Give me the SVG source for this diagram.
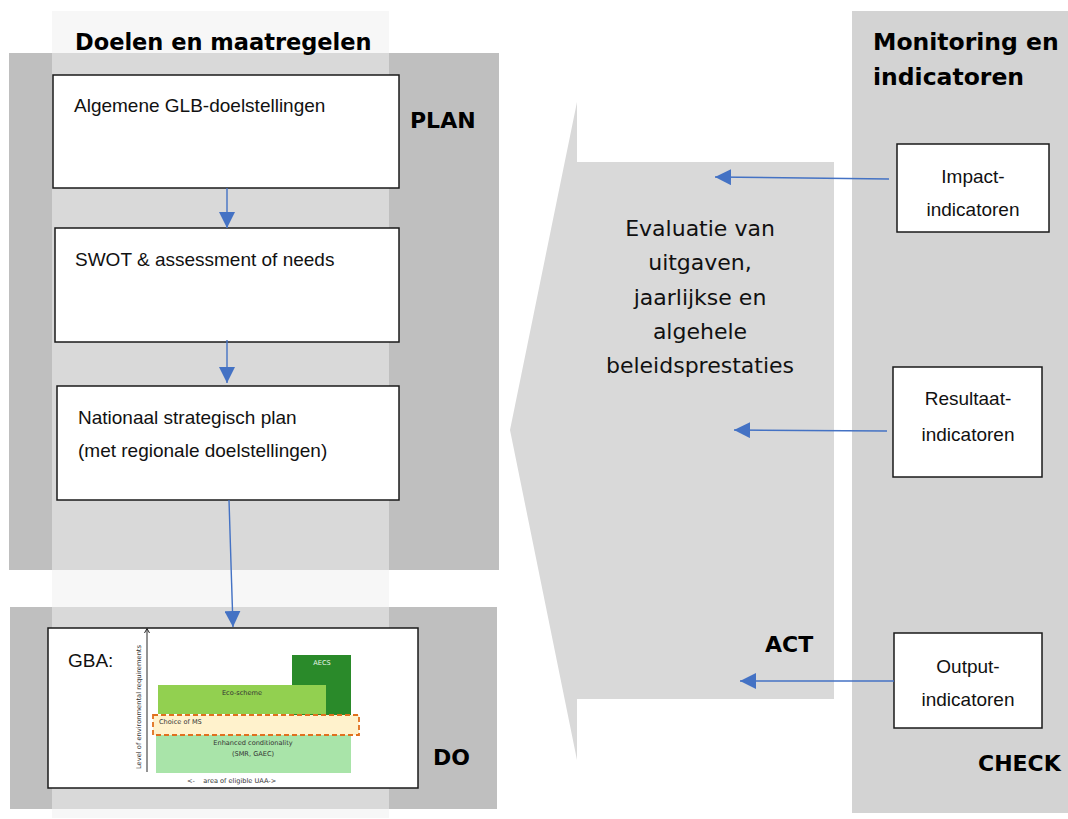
<svg xmlns="http://www.w3.org/2000/svg" width="1068" height="819" viewBox="0 0 1068 819">
  <style>
    .box { fill: #ffffff; stroke: #1a1a1a; stroke-width: 1.5; }
    .calibri { font-family: "Liberation Sans", Arial, sans-serif; font-size: 19px; fill: #111; }
    .hdr { font-family: "DejaVu Sans", Verdana, sans-serif; font-weight: bold; fill: #000; }
    .phase { font-family: "DejaVu Sans", Verdana, sans-serif; font-weight: bold; font-size: 22px; fill: #000; }
    .eval { font-family: "DejaVu Sans", Verdana, sans-serif; font-size: 22px; fill: #111; text-anchor: middle; }
    .conn { stroke: #4472c4; stroke-width: 1.4; fill: none; marker-end: url(#ah); }
    .tiny { font-family: "DejaVu Sans", Verdana, sans-serif; font-size: 6.6px; fill: #333; }
  </style>
  <defs>
    <marker id="ah" markerUnits="userSpaceOnUse" markerWidth="16" markerHeight="16" refX="15" refY="7.5" orient="auto" viewBox="0 0 15 15">
      <path d="M0,0 L15,7.5 L0,15 z" fill="#4472c4"/>
    </marker>
  </defs>
  <rect width="1068" height="819" fill="#ffffff"/>

  <!-- Left column backgrounds -->
  <g id="left-column">
    <rect x="52" y="11" width="337" height="807" fill="#f7f7f7"/>
    <rect x="9" y="53" width="490" height="517" fill="#bfbfbf"/>
    <rect x="52" y="53" width="337" height="517" fill="#d9d9d9"/>
    <rect x="10" y="607" width="487" height="202" fill="#bfbfbf"/>
    <rect x="52" y="607" width="337" height="202" fill="#d9d9d9"/>
    <text class="hdr" x="75" y="50" font-size="22.5">Doelen en maatregelen</text>
    <text class="phase" x="410" y="128">PLAN</text>
    <text class="phase" x="433" y="765">DO</text>
  </g>

  <!-- Right column -->
  <g id="right-column">
    <rect x="852" y="11" width="216" height="802" fill="#d3d3d3"/>
    <text class="hdr" x="873" y="50" font-size="23.5">Monitoring en</text>
    <text class="hdr" x="873" y="85" font-size="23.5">indicatoren</text>
    <text class="phase" x="978" y="771">CHECK</text>
  </g>

  <!-- ACT arrow shape -->
  <g id="act">
    <polygon points="577,102 577,162 834,162 834,699 577,699 577,760 510,430" fill="#d9d9d9"/>
    <text class="eval" x="700" y="236">Evaluatie van</text>
    <text class="eval" x="700" y="270">uitgaven,</text>
    <text class="eval" x="700" y="305">jaarlijkse en</text>
    <text class="eval" x="700" y="339">algehele</text>
    <text class="eval" x="700" y="373">beleidsprestaties</text>
    <text class="phase" x="765" y="652">ACT</text>
  </g>

  <g id="node-algemene">
    <rect class="box" x="53" y="75" width="346" height="113"/>
    <text class="calibri" x="74" y="112">Algemene GLB-doelstellingen</text>
  </g>

  <g id="node-swot">
    <rect class="box" x="55" y="228" width="344" height="114"/>
    <text class="calibri" x="75" y="266">SWOT &amp; assessment of needs</text>
  </g>

  <g id="node-nsp">
    <rect class="box" x="57" y="386" width="342" height="114"/>
    <text class="calibri" x="78" y="424">Nationaal strategisch plan</text>
    <text class="calibri" x="78" y="457">(met regionale doelstellingen)</text>
  </g>

  <g id="node-gba">
    <rect class="box" x="48" y="628" width="370" height="160"/>
    <text class="calibri" x="68" y="667">GBA:</text>
    <line x1="147" y1="772" x2="147" y2="629" stroke="#111" stroke-width="0.9"/>
    <polyline points="144.5,633 147,628.5 149.5,633" fill="none" stroke="#111" stroke-width="0.9"/>
    <text class="tiny" transform="translate(141,707) rotate(-90)" text-anchor="middle" font-size="6.4" textLength="124" lengthAdjust="spacingAndGlyphs">Level of environmental requirements</text>
    <rect x="292" y="655" width="59" height="60" fill="#2a8a2a"/>
    <text class="tiny" x="322" y="665" text-anchor="middle" fill="#eaf6ea" style="fill:#eaf6ea">AECS</text>
    <rect x="158" y="685" width="168" height="29" fill="#92d050"/>
    <text class="tiny" x="242" y="695" text-anchor="middle">Eco-scheme</text>
    <rect x="156" y="735" width="195" height="38" fill="#a9e4a9"/>
    <rect x="153" y="715" width="206" height="20" fill="#fff2cc" stroke="#e0701e" stroke-width="1.8" stroke-dasharray="5,3"/>
    <text class="tiny" x="159" y="724">Choice of MS</text>
    <text class="tiny" x="253" y="745" text-anchor="middle">Enhanced conditionality</text>
    <text class="tiny" x="253" y="756" text-anchor="middle">(SMR, GAEC)</text>
    <text class="tiny" x="187" y="783" xml:space="preserve">&lt;-    area of eligible UAA-&gt;</text>
  </g>

  <g id="node-impact">
    <rect class="box" x="897" y="144" width="152" height="88"/>
    <text class="calibri" x="973" y="183" text-anchor="middle">Impact-</text>
    <text class="calibri" x="973" y="216" text-anchor="middle">indicatoren</text>
  </g>

  <g id="node-resultaat">
    <rect class="box" x="893" y="367" width="149" height="110"/>
    <text class="calibri" x="968" y="405" text-anchor="middle">Resultaat-</text>
    <text class="calibri" x="968" y="441" text-anchor="middle">indicatoren</text>
  </g>

  <g id="node-output">
    <rect class="box" x="894" y="633" width="148" height="95"/>
    <text class="calibri" x="968" y="673" text-anchor="middle">Output-</text>
    <text class="calibri" x="968" y="706" text-anchor="middle">indicatoren</text>
  </g>

  <g id="connectors">
    <line class="conn" x1="227" y1="188" x2="227" y2="228"/>
    <line class="conn" x1="227" y1="340" x2="227" y2="383"/>
    <line class="conn" x1="229" y1="500" x2="233" y2="627"/>
    <line class="conn" x1="889" y1="179" x2="715" y2="177"/>
    <line class="conn" x1="887" y1="431" x2="734" y2="430"/>
    <line class="conn" x1="894" y1="681" x2="740" y2="681"/>
  </g>
</svg>
